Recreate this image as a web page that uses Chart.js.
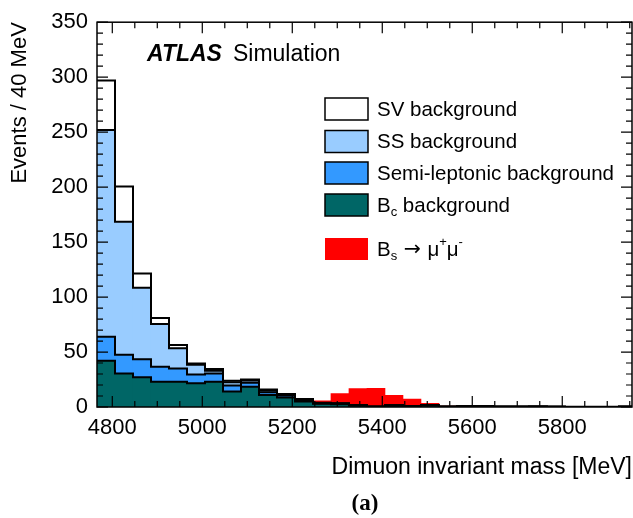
<!DOCTYPE html>
<html>
<head>
<meta charset="utf-8">
<script src="https://cdn.jsdelivr.net/npm/chart.js@4.4.0/dist/chart.umd.min.js"></script>
<style>
  html, body { margin: 0; padding: 0; background: #fff; }
  #wrap { width: 633px; height: 518px; }
</style>
</head>
<body>
<div id="wrap"><canvas id="massChart"></canvas></div>
<script>
// Bin lower edges [MeV], 40 MeV bins
const binLow = [4766, 4806, 4846, 4886, 4926, 4966, 5006, 5046, 5086, 5126,
                5166, 5206, 5246, 5286, 5326, 5366, 5406, 5446, 5486, 5526,
                5566, 5606, 5646, 5686, 5726, 5766, 5806, 5846, 5886, 5926];
const binWidth = 40;

// Events per bin for each component (stacked from the bottom up)
const bcBkg   = [42, 30.5, 27, 23, 23, 21.5, 23, 14, 18.5, 11,
                 8.7, 5, 3, 2.6, 1.4, 0.3, 1.3, 0.6, 1.5, 0.2,
                 0.5, 0.5, 0.2, 0.2, 0.3, 0.2, 0.1, 0.1, 0.1, 0.2];
const semiBkg = [22, 17, 16.5, 13.5, 12, 8, 7.5, 5.5, 3.5, 2.5,
                 1.8, 1, 0.5, 0.3, 0.2, 0, 0.1, 0, 0, 0,
                 0, 0, 0, 0, 0, 0, 0, 0, 0, 0];
const ssBkg   = [188, 121, 65, 39, 18.5, 9, 2.5, 3, 2, 1.5,
                 0.8, 0.7, 0.2, 0.2, 0.1, 0, 0, 0, 0, 0,
                 0, 0, 0, 0.1, 0, 0, 0, 0, 0, 0];
const svBkg   = [45, 32, 13, 5.5, 3, 1, 1.5, 1.3, 1, 1,
                 0.5, 0.5, 0.2, 0.2, 0.1, 0.1, 0.2, 0.2, 0.3, 0.2,
                 0.4, 0.5, 0.2, 0.2, 0.3, 0.1, 0.2, 0.2, 0.1, 0.2];
const bsSignal = [0, 0, 0, 0, 0, 0, 0, 0, 0, 0,
                  0, 0.2, 1.8, 9, 15, 16.5, 9, 6.3, 1.5, 0.5,
                  0.2, 0, 0, 0, 0, 0, 0, 0, 0, 0];

const xTickLabels = [4800, 5000, 5200, 5400, 5600, 5800];
const yTickStep = 50;

const colors = {
    bc: 'rgb(0, 102, 102)',
    semi: 'rgb(51, 153, 255)',
    ss: 'rgb(153, 204, 255)',
    sv: 'rgb(255, 255, 255)',
    bs: 'rgb(255, 0, 0)'
};

// legend rows, top to bottom; parts: [text, 0 normal | 1 sub | 2 sup | 3 symbol]
const legendRows = [
    { color: colors.sv,   border: true,  parts: [['SV background', 0]] },
    { color: colors.ss,   border: true,  parts: [['SS background', 0]] },
    { color: colors.semi, border: true,  parts: [['Semi-leptonic background', 0]] },
    { color: colors.bc,   border: true,  parts: [['B', 0], ['c', 1], [' background', 0]] },
    { color: colors.bs,   border: false, parts: [['B', 0], ['s', 1], [' \u2192 ', 3], ['\u03bc', 0], ['+', 2], ['\u03bc', 0], ['-', 2]] }
];

const FONT = "'Liberation Sans', Arial, sans-serif";

function barData(values) {
    return values.map((v, i) => ({ x: binLow[i] + binWidth / 2, y: v }));
}

// cumulative outline of a stack level, stepped at bin edges
function outlineData(levels) {
    const pts = [];
    for (let i = 0; i < binLow.length; i++) {
        let sum = 0;
        levels.forEach(arr => { sum += arr[i]; });
        pts.push({ x: binLow[i], y: sum });
    }
    pts.push({ x: binLow[binLow.length - 1] + binWidth, y: pts[pts.length - 1].y });
    return pts;
}

function barSet(label, values, color) {
    return {
        type: 'bar', label: label, data: barData(values),
        backgroundColor: color, borderWidth: 0,
        stack: 'mass', order: 1, clip: 0,
        barPercentage: 1, categoryPercentage: 1
    };
}

function lineSet(id, levels) {
    return {
        type: 'line', label: id, data: outlineData(levels),
        borderColor: '#000', borderWidth: 2, pointRadius: 0,
        fill: false, stepped: 'before', stack: id, order: 0, clip: 0
    };
}

// frame with ROOT-style inward ticks on all four sides
const framePlugin = {
    id: 'frame',
    afterDatasetsDraw(chart) {
        const { ctx, chartArea: a, scales: { x, y } } = chart;
        ctx.save();
        ctx.strokeStyle = '#000';
        ctx.lineWidth = 1.2;
        ctx.beginPath();
        for (let v = 4800; v <= x.max; v += 50) {
            const px = x.getPixelForValue(v);
            const len = (v % 200 === 0) ? 11 : 6;
            ctx.moveTo(px, a.bottom); ctx.lineTo(px, a.bottom - len);
            ctx.moveTo(px, a.top); ctx.lineTo(px, a.top + len);
        }
        for (let v = 0; v <= y.max; v += 10) {
            const py = y.getPixelForValue(v);
            const len = (v % yTickStep === 0) ? 11 : 6;
            ctx.moveTo(a.left, py); ctx.lineTo(a.left + len, py);
            ctx.moveTo(a.right, py); ctx.lineTo(a.right - len, py);
        }
        ctx.stroke();
        ctx.lineWidth = 1.5;
        ctx.strokeRect(a.left, a.top, a.right - a.left, a.bottom - a.top);
        ctx.restore();
    }
};

function drawParts(ctx, parts, x, y, size) {
    parts.forEach(([txt, kind]) => {
        const s = (kind === 1 || kind === 2) ? Math.round(size * 0.65) : size;
        const dy = kind === 1 ? size * 0.3 : (kind === 2 ? -size * 0.38 : 0);
        ctx.font = s + 'px ' + (kind === 3 ? "'DejaVu Sans', sans-serif" : FONT);
        ctx.fillText(txt, x, y + dy);
        x += ctx.measureText(txt).width;
    });
}

const labelPlugin = {
    id: 'labels',
    afterDraw(chart) {
        const ctx = chart.ctx;
        ctx.save();
        ctx.fillStyle = '#000';
        ctx.textBaseline = 'middle';
        ctx.textAlign = 'left';

        // legend
        const rowY = [109, 141.5, 173, 205, 249];
        legendRows.forEach((row, i) => {
            const top = rowY[i] - 11;
            ctx.fillStyle = row.color;
            ctx.fillRect(325, top, 43, 22);
            if (row.border) {
                ctx.strokeStyle = '#000';
                ctx.lineWidth = 1.5;
                ctx.strokeRect(325, top, 43, 22);
            }
            ctx.fillStyle = '#000';
            drawParts(ctx, row.parts, 377, rowY[i] + 1, 20.5);
        });

        // ATLAS label
        ctx.textBaseline = 'alphabetic';
        ctx.font = 'italic bold 23px ' + FONT;
        ctx.fillText('ATLAS', 147, 61);
        const w = ctx.measureText('ATLAS').width;
        ctx.font = '23px ' + FONT;
        ctx.fillText('Simulation', 147 + w + 11, 61);

        // panel tag
        ctx.textAlign = 'center';
        ctx.textBaseline = 'middle';
        ctx.font = "bold 23px 'Liberation Serif', 'Times New Roman', serif";
        ctx.fillText('(a)', 365, 504);
        ctx.restore();
    }
};

document.addEventListener('DOMContentLoaded', function() {
    const canvas = document.getElementById('massChart');
    new Chart(canvas.getContext('2d'), {
        type: 'bar',
        data: {
            datasets: [
                barSet('Bc background', bcBkg, colors.bc),
                barSet('Semi-leptonic background', semiBkg, colors.semi),
                barSet('SS background', ssBkg, colors.ss),
                barSet('SV background', svBkg, colors.sv),
                barSet('Bs signal', bsSignal, colors.bs),
                lineSet('o1', [bcBkg]),
                lineSet('o2', [bcBkg, semiBkg]),
                lineSet('o3', [bcBkg, semiBkg, ssBkg]),
                lineSet('o4', [bcBkg, semiBkg, ssBkg, svBkg])
            ]
        },
        options: {
            responsive: true,
            maintainAspectRatio: false,
            animation: false,
            layout: { padding: { top: 20, right: 1, left: 0, bottom: 0 } },
            plugins: {
                legend: { display: false },
                tooltip: { enabled: false }
            },
            scales: {
                x: {
                    type: 'linear',
                    stacked: true,
                    min: 4766,
                    max: 5955,
                    offset: false,
                    grid: { display: false, drawTicks: false },
                    border: { display: false },
                    afterBuildTicks: s => { s.ticks = xTickLabels.map(v => ({ value: v })); },
                    afterFit: s => { s.height = 111; },
                    ticks: {
                        color: '#000', padding: 8, maxRotation: 0, autoSkip: false,
                        font: { family: FONT, size: 22 },
                        callback: v => String(v)
                    },
                    title: {
                        display: true, text: 'Dimuon invariant mass [MeV]', align: 'end',
                        color: '#000', font: { family: FONT, size: 23 },
                        padding: { top: 0, bottom: 37 }
                    }
                },
                y: {
                    stacked: true,
                    min: 0,
                    max: 350,
                    grid: { display: false, drawTicks: false },
                    border: { display: false },
                    afterFit: s => { s.width = 97; },
                    ticks: {
                        stepSize: yTickStep, color: '#000', padding: 9,
                        font: { family: FONT, size: 22 }
                    },
                    title: {
                        display: true, text: 'Events / 40 MeV', align: 'end',
                        color: '#000', font: { family: FONT, size: 22 },
                        padding: { top: 7, bottom: 0 }
                    }
                }
            }
        },
        plugins: [framePlugin, labelPlugin]
    });
});
</script>
</body>
</html>
